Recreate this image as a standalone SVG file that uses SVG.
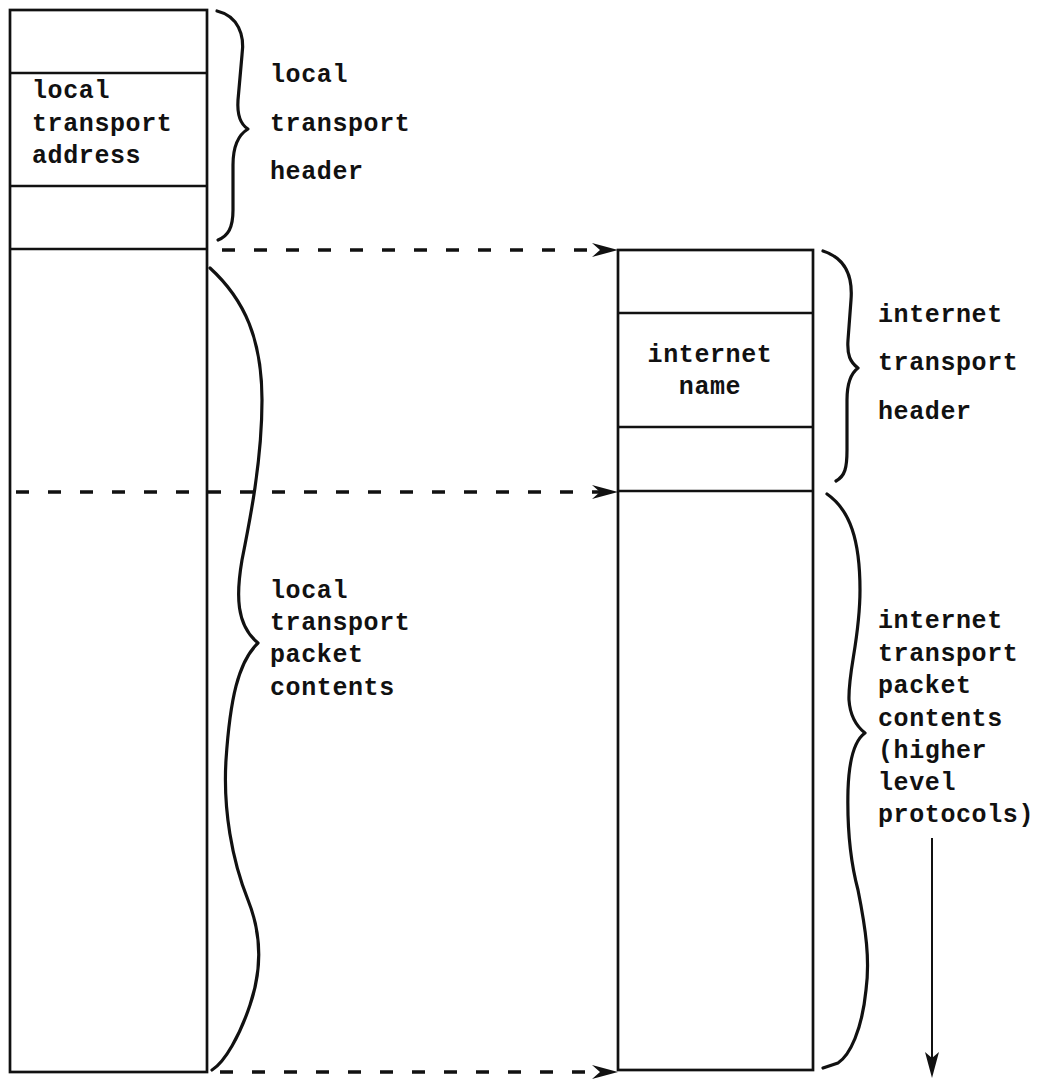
<svg xmlns="http://www.w3.org/2000/svg" width="1037" height="1080" viewBox="0 0 1037 1080">
<style>
.box{fill:none;stroke:#111;stroke-width:2.7}
.div{stroke:#111;stroke-width:2.4}
.brace{fill:none;stroke:#111;stroke-width:3.2;stroke-linecap:round;stroke-linejoin:round}
.dash{stroke:#111;stroke-width:3.4;stroke-dasharray:13 19;fill:none}
.head{fill:#111}
.t{font-family:"Liberation Mono","DejaVu Sans Mono",monospace;font-weight:bold;font-size:25px;letter-spacing:0.6px;fill:#111}
</style>
<rect width="1037" height="1080" fill="#fff"/>
<g id="local-transport-packet">
<rect class="box" x="10" y="10" width="197" height="1062"/>
<line class="div" x1="10" y1="73" x2="207" y2="73"/>
<line class="div" x1="10" y1="186" x2="207" y2="186"/>
<line class="div" x1="10" y1="249" x2="207" y2="249"/>
<text class="t" x="32" y="98">local</text>
<text class="t" x="32" y="131">transport</text>
<text class="t" x="32" y="163">address</text>
</g>
<g id="internet-transport-packet">
<rect class="box" x="618" y="250" width="195" height="820"/>
<line class="div" x1="618" y1="313" x2="813" y2="313"/>
<line class="div" x1="618" y1="427" x2="813" y2="427"/>
<line class="div" x1="618" y1="491" x2="813" y2="491"/>
<text class="t" x="710" y="362" text-anchor="middle">internet</text>
<text class="t" x="710" y="394" text-anchor="middle">name</text>
</g>
<g id="local-transport-header">
<path class="brace" d="M217,11 C238,16 245,35 242,55 L238,100 C237,115 240,124 248,129 C238,135 233,148 233,165 L233,210 C233,228 228,236 218,240"/>
<text class="t" x="270" y="82">local</text>
<text class="t" x="270" y="131">transport</text>
<text class="t" x="270" y="179">header</text>
</g>
<g id="local-transport-packet-contents">
<path class="brace" d="M210,268 C245,300 262,340 262,400 C262,460 250,520 242,560 C236,595 236,625 258,643 C238,662 230,700 226,760 C223,810 232,860 248,900 C262,935 262,970 250,1005 C240,1035 225,1062 212,1070"/>
<text class="t" x="270" y="598">local</text>
<text class="t" x="270" y="630">transport</text>
<text class="t" x="270" y="662">packet</text>
<text class="t" x="270" y="695">contents</text>
</g>
<g id="internet-transport-header">
<path class="brace" d="M823,251 C845,258 853,275 851,300 L848,340 C847,355 850,362 858,368 C850,374 847,385 847,400 L847,450 C847,468 845,476 836,481"/>
<text class="t" x="878" y="322">internet</text>
<text class="t" x="878" y="370">transport</text>
<text class="t" x="878" y="419">header</text>
</g>
<g id="internet-transport-packet-contents">
<path class="brace" d="M827,494 C850,510 860,540 860,590 C860,640 848,670 849,700 C850,715 855,725 865,733 C855,740 849,760 848,790 C847,830 850,860 858,890 C866,930 870,960 866,990 C862,1030 850,1055 838,1063 L823,1068"/>
<text class="t" x="878" y="628">internet</text>
<text class="t" x="878" y="661">transport</text>
<text class="t" x="878" y="693">packet</text>
<text class="t" x="878" y="726">contents</text>
<text class="t" x="878" y="758">(higher</text>
<text class="t" x="878" y="790">level</text>
<text class="t" x="878" y="822">protocols)</text>
</g>
<g id="connectors">
<line class="dash" x1="222" y1="250" x2="600" y2="250"/>
<path class="head" d="M592,243 L618,250 L592,257 L600,250 Z"/>
<line class="dash" x1="16" y1="492" x2="600" y2="492"/>
<path class="head" d="M592,485 L618,492 L592,499 L600,492 Z"/>
<line class="dash" x1="220" y1="1072" x2="600" y2="1072"/>
<path class="head" d="M592,1065 L618,1072 L592,1079 L600,1072 Z"/>
<line x1="932" y1="838" x2="932" y2="1060" stroke="#111" stroke-width="2"/>
<path class="head" d="M925,1052 L932,1078 L939,1052 L932,1058 Z"/>
</g>
</svg>
